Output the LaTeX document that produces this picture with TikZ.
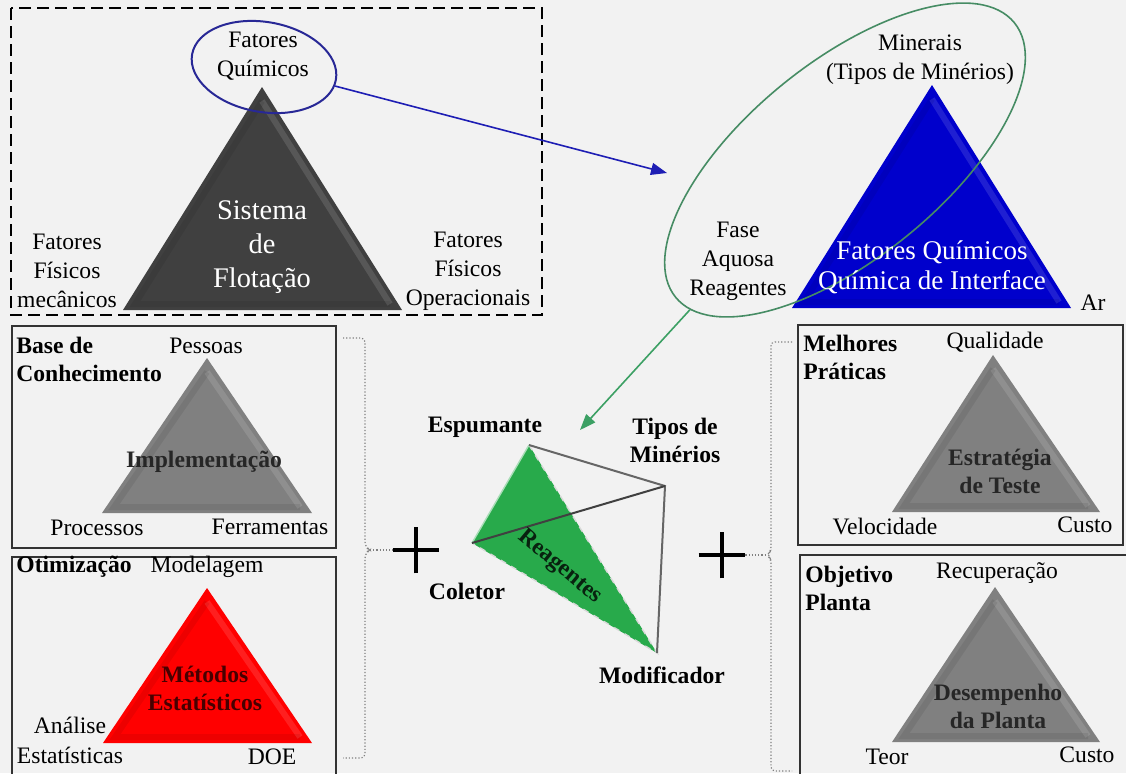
\documentclass[tikz,border=0pt]{standalone}
\usepackage{fontspec}
\setmainfont{Liberation Serif}
\usetikzlibrary{calc,shapes.geometric,shapes.misc,arrows.meta}

\definecolor{paper}{RGB}{242,242,242}
\definecolor{flotgray}{RGB}{64,64,64}
\definecolor{midgray}{RGB}{128,128,128}
\definecolor{chemblue}{RGB}{0,0,204}
\definecolor{optred}{RGB}{255,0,0}
\definecolor{reagreen}{RGB}{40,170,75}
\definecolor{ringblue}{RGB}{40,40,150}
\definecolor{ringgreen}{RGB}{70,140,100}
\definecolor{arrblue}{RGB}{30,30,180}
\definecolor{arrgreen}{RGB}{60,160,100}

% bevelled triangle: colour, apex, left corner, right corner
\def\bevtri[#1](#2)(#3)(#4){%
  \fill[#1] (#2) -- (#3) -- (#4) -- cycle;
  \draw[white,opacity=.12,line width=3pt] ($(#2)+(0,14)$) -- ($(#4)+(-12,-6)$);
  \draw[black,opacity=.07,line width=3pt] ($(#4)+(-12,-6)$) -- ($(#3)+(12,-6)$) -- ($(#2)+(0,14)$);}

\begin{document}
\begin{tikzpicture}[x=0.5pt,y=-0.5pt,
    lbl/.style={font=\fontsize{11.8}{14.5}\selectfont,align=center,inner sep=0pt},
    blbl/.style={lbl,font=\fontsize{11.8}{14}\selectfont\bfseries},
    panel/.style={draw=black!80,line width=1pt},
    oval/.style={ellipse,draw,inner sep=0pt},
    plussign/.style={cross out,draw,line width=2pt,rotate=45,minimum size=14.5pt,inner sep=0pt},
    bracelink/.style={draw=gray,densely dotted,line width=.6pt,rounded corners=2pt},
    tip/.style={-{Triangle[length=8pt,width=6pt]},line width=.8pt}]
			%%%%% START %%%%%
			\useasboundingbox (0,0) rectangle (1126,773);
			\clip (0,0) rectangle (1126,773);
			\fill[paper] (0,0) rectangle (1126,773);
			
			%%%%% flotation system
			\draw[dash pattern=on 6pt off 3pt,line width=.75pt] (11,8) rectangle (542,315);
			\bevtri[flotgray](262,87)(123,310)(402,310)
			\node[oval,draw=ringblue,line width=1pt,minimum width=73pt,minimum height=45pt,rotate=-10] (fqring) at (264,67) {};
			\node[lbl] (fq) at (263,56) {Fatores\\Químicos};
			\node[lbl,text=white,font=\fontsize{14.2}{17}\selectfont] (sis) at (262,247) {Sistema\\de\\Flotação};
			\node[lbl] (fmec) at (67,271) {Fatores\\Físicos\\mecânicos};
			\node[lbl] (fop) at (468,271) {Fatores\\Físicos\\Operacionais};
			
			%%%%% interface chemistry
			\bevtri[chemblue](932,85)(792,308)(1071,308)
			\node[oval,draw=ringgreen,line width=.8pt,minimum width=218pt,minimum height=98pt,rotate=39] (greenring) at (845,160) {};
			\node[lbl] (minr) at (920,60) {Minerais\\(Tipos de Minérios)};
			\node[lbl] (fase) at (738,261) {Fase\\Aquosa\\Reagentes};
			\node[lbl,text=white,font=\fontsize{13.5}{15}\selectfont] (fqi) at (932,267) {Fatores Químicos\\Química de Interface};
			\node[lbl] (ar) at (1093,303) {Ar};
			\coordinate (bluetip) at (667,173);
			\draw[tip,draw=arrblue] (fqring.-5) -- (bluetip);
			
			%%%%% left panels
			\draw[panel] (12,326) rectangle (336,548);
			\bevtri[midgray](207,358)(102,513)(312,513)
			\node[blbl,align=left,anchor=west] (basec) at (16,359) {Base de\\Conhecimento};
			\node[lbl] (pess) at (206,346) {Pessoas};
			\node[blbl,text=black!85] (impl) at (204,462) {Implementação};
			\node[lbl] (proc) at (97,528) {Processos};
			\node[lbl] (ferr) at (270,527) {Ferramentas};
			
			\draw[panel] (12,557) rectangle (336,790);
			\bevtri[optred](207,588)(103,743)(312,743)
			\node[blbl,anchor=west] (otim) at (16,567) {Otimização};
			\node[lbl] (model) at (207,567) {Modelagem};
			\node[blbl,text=black!60!red!70!black] (metod) at (205,688) {Métodos\\Estatísticos};
			\node[lbl,font=\fontsize{11.8}{15}\selectfont] (anal) at (70,740) {Análise\\Estatísticas};
			\node[lbl] (doe) at (272,757) {DOE};
			
			%%%%% right panels
			\draw[panel] (798,325) rectangle (1123,545);
			\bevtri[midgray](993,355)(892,512)(1100,512)
			\node[blbl,align=left,anchor=west] (melh) at (803,357) {Melhores\\Práticas};
			\node[lbl] (qual) at (995,342) {Qualidade};
			\node[blbl,text=black!85] (estr) at (1000,471) {Estratégia\\de Teste};
			\node[lbl] (velo) at (885,526) {Velocidade};
			\node[lbl] (custoa) at (1085,525) {Custo};
			
			\draw[panel] (800,555) rectangle (1130,790);
			\bevtri[midgray](995,587)(892,742)(1100,742)
			\node[blbl,align=left,anchor=west] (objp) at (805,588) {Objetivo\\Planta};
			\node[lbl] (recup) at (997,573) {Recuperação};
			\node[blbl,text=black!85] (desemp) at (998,706) {Desempenho\\da Planta};
			\node[lbl] (teor) at (887,757) {Teor};
			\node[lbl] (custob) at (1087,755) {Custo};
			
			%%%%% reagents tetrahedron
			\coordinate (esp) at (529,445);
			\coordinate (tmin) at (665,486);
			\coordinate (col) at (472,543);
			\coordinate (modf) at (657,653);
			\fill[reagreen] (esp) -- (col) -- (modf) -- cycle;
			\draw[white!70!gray,dashed,line width=.7pt] (esp) -- (modf) -- (col);
			\draw[white!60!reagreen,line width=.7pt] (col) -- (esp);
			\draw[black!60,line width=1pt] (esp) -- (tmin) -- (modf);
			\draw[black!75,line width=1pt] (col) -- (tmin);
			\node[blbl,rotate=-40,text=black!80!reagreen] (reag) at (560,567) {Reagentes};
			\node[blbl] (espl) at (485,427) {Espumante};
			\node[blbl] (tminl) at (675,440) {Tipos de\\Minérios};
			\node[blbl] (coll) at (467,591) {Coletor};
			\node[blbl] (modl) at (662,675) {Modificador};
			\coordinate (greentip) at (580,430);
			\draw[tip,draw=arrgreen] (greenring.185) -- (greentip);
			
			%%%%% plus signs and braces
			\node[plussign] (plusl) at (416,550) {};
			\node[plussign] (plusr) at (722,555) {};
			\coordinate (bracel) at (370,550);
			\coordinate (bracer) at (767,555);
			\draw[bracelink] (343,338) -- (365,338) -- (365,546) -- (bracel) -- (365,554) -- (365,758) -- (343,758);
			\draw[bracelink] (792,342) -- (771,342) -- (771,551) -- (bracer) -- (771,559) -- (771,771) -- (792,771);
			\draw[gray,densely dotted,line width=.6pt] (bracel) -- (bracel -| plusl.north west);
			\draw[gray,densely dotted,line width=.6pt] (plusr.south east) -- (bracer);
			%%%%% END %%%%%
\end{tikzpicture}
\end{document}
